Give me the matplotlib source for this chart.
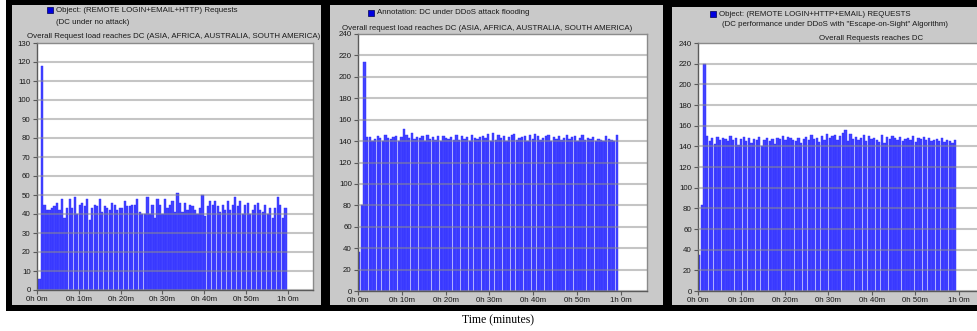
import matplotlib.pyplot as plt
from matplotlib.patches import Rectangle

W, H = 977, 331
BIN = 0.6  # minutes per bar

tick_minutes = [0, 10, 20, 30, 40, 50, 60]
tick_labels = ["0h 0m", "0h 10m", "0h 20m", "0h 30m", "0h 40m", "0h 50m", "1h 0m"]

# DC under no attack
normal_start = 0.6
normal_load = [
    6, 118, 45, 42, 42, 43, 44, 46, 42, 48,
    38, 43, 48, 43, 49, 40, 45, 46, 44, 48,
    37, 43, 45, 44, 48, 41, 44, 43, 42, 46,
    45, 42, 43, 43, 47, 44, 44, 45, 45, 48,
    41, 40, 40, 49, 40, 45, 38, 48, 45, 40,
    48, 43, 45, 47, 41, 51, 46, 41, 46, 42,
    45, 44, 42, 40, 43, 50, 39, 44, 47, 45,
    47, 44, 41, 45, 42, 47, 42, 45, 49, 44,
    47, 40, 45, 46, 40, 42, 45, 46, 42, 41,
    45, 40, 43, 38, 43, 49, 45, 38, 43,
]

# DC under DDoS flooding
flood_start = 0.3
flood_load = [
    36, 80, 214, 144, 144, 140, 142, 145, 143, 140,
    146, 143, 142, 144, 145, 140, 144, 151, 146, 143,
    148, 142, 144, 143, 145, 140, 146, 142, 144, 141,
    145, 140, 145, 143, 142, 144, 141, 146, 141, 145,
    142, 144, 140, 146, 143, 142, 144, 145, 143, 147,
    140, 148, 141, 146, 143, 145, 140, 144, 146, 147,
    141, 143, 144, 145, 140, 146, 142, 147, 145, 141,
    143, 145, 146, 140, 144, 142, 145, 141, 143, 146,
    142, 144, 145, 140, 143, 146, 141, 143, 142, 144,
    140, 142, 141, 140, 145, 142, 141, 140, 146,
]

# DC under DDoS with Escape-on-Sight
eos_start = 0.3
eos_load = [
    35, 83, 220, 150, 145, 148, 142, 149, 146, 148,
    147, 145, 150, 146, 148, 141, 147, 149, 145, 148,
    143, 147, 146, 149, 140, 146, 148, 145, 147, 142,
    148, 147, 150, 146, 149, 148, 146, 145, 148, 143,
    147, 149, 146, 151, 147, 148, 144, 150, 146, 152,
    148, 150, 151, 146, 150, 153, 156, 145, 152, 147,
    149, 146, 148, 151, 145, 150, 147, 148, 146, 144,
    151, 143, 149, 147, 150, 148, 146, 149, 145, 147,
    148, 146, 150, 144, 148, 147, 149, 146, 148, 145,
    146, 147, 145, 148, 144, 146, 145, 143, 146,
]

FONT = "Liberation Sans"
BLUE = "#4343ff"
PANEL = "#c9c9c9"

fig = plt.figure(figsize=(W / 100, H / 100), dpi=100)
fig.patch.set_facecolor("white")


def fx(x):
    return x / W


def fy(y):
    return 1 - y / H


def box(x0, y0, x1, y1, color, z, edge="none", lw=0):
    fig.patches.append(Rectangle((fx(x0), fy(y1)), fx(x1) - fx(x0), fy(y0) - fy(y1),
                                 transform=fig.transFigure, facecolor=color,
                                 edgecolor=edge, linewidth=lw, zorder=z))


def label(x, y, s, size=5.7, **kw):
    fig.text(fx(x), fy(y), s, fontsize=size, family=FONT, color="#1a1a1a",
             va="center", zorder=4, **kw)


# black frames and grey panels
box(6, 0, W, 311, "black", -3)
box(12, 5, 321, 305, PANEL, -2)
box(330, 5, 663, 305, PANEL, -2)
box(672, 7, W, 305, PANEL, -2)
# divider strips drawn above overflowing captions
box(321, 0, 330, 311, "black", 10)
box(663, 0, 672, 311, "black", 10)


def panel(rect, start, values, ymax, ystep):
    l, t, r, b = rect
    ax = fig.add_axes([fx(l), fy(b), fx(r) - fx(l), fy(t) - fy(b)])
    times = [start + BIN * i for i in range(len(values))]
    ax.bar(times, values, width=BIN * 0.88, color=BLUE, edgecolor="#2a2aff",
           linewidth=0.3, zorder=2)
    ax.set_xlim(0, 66)
    ax.set_ylim(0, ymax)
    ax.set_yticks(range(0, ymax + 1, ystep))
    ax.set_xticks(tick_minutes)
    ax.set_xticklabels(tick_labels)
    ax.grid(axis="y", color="#8c8c8c", linewidth=1.5, alpha=0.5, zorder=3)
    ax.set_axisbelow(False)
    for side in ["left", "bottom"]:
        ax.spines[side].set_color("#5a5a5a")
        ax.spines[side].set_linewidth(1.0)
    for side in ["top", "right"]:
        ax.spines[side].set_color("#8a8a8a")
        ax.spines[side].set_linewidth(1.0)
    ax.tick_params(labelsize=5.7, length=3, width=0.8, color="#5a5a5a",
                   pad=1.5, labelcolor="#1a1a1a")
    for lab in ax.get_xticklabels() + ax.get_yticklabels():
        lab.set_family(FONT)
    return ax


panel((37, 43, 313, 290), normal_start, normal_load, 130, 10)
panel((358, 34, 647, 291), flood_start, flood_load, 240, 20)
panel((698, 43, 985, 291), eos_start, eos_load, 240, 20)

# legend keys
for x, y in [(47, 10), (368, 13), (710, 14)]:
    box(x, y - 3, x + 6, y + 3, "#0000e0", 4, edge="#000050", lw=0.5)

label(56, 10, "Object: (REMOTE LOGIN+EMAIL+HTTP) Requests")
label(56, 22, "(DC under no attack)")
label(27, 36, "Overall Request load reaches DC (ASIA, AFRICA, AUSTRALIA, SOUTH AMERICA)")

label(377, 13, "Annotation: DC under DDoS attack flooding")
label(342, 28, "Overall request load reaches DC (ASIA, AFRICA, AUSTRALIA, SOUTH AMERICA)")

label(719, 14, "Object: (REMOTE LOGIN+HTTP+EMAIL) REQUESTS")
label(722, 25, "(DC performance under DDoS with \"Escape-on-Sight\" Algorithm)")
label(871, 38, "Overall Requests reaches DC", ha="center")

fig.text(fx(498), fy(320), "Time (minutes)", fontsize=8.5, family="Liberation Serif",
         ha="center", va="center", color="black")

fig.savefig("out.png", dpi=100)
